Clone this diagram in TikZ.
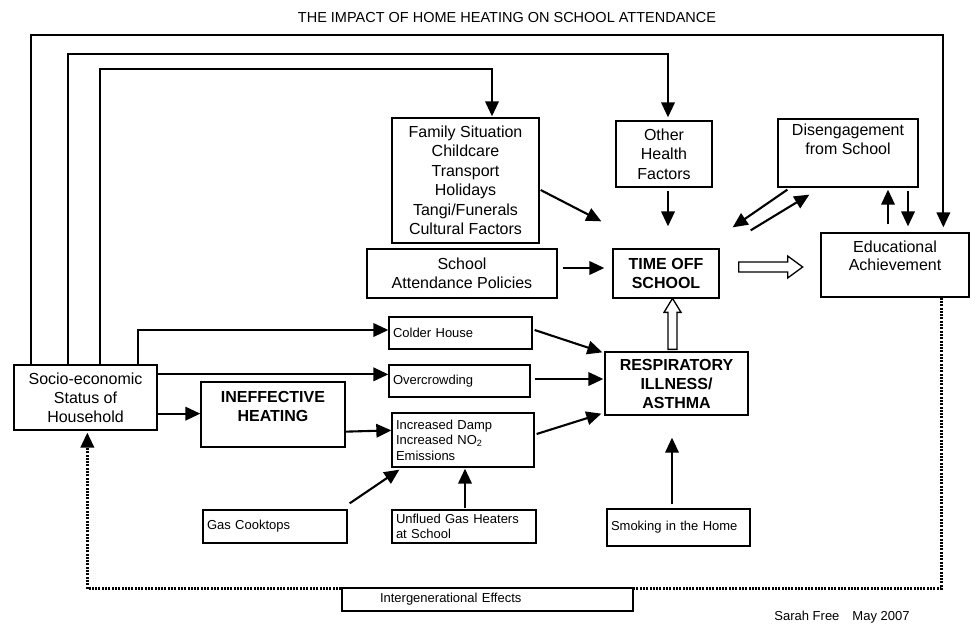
\documentclass[tikz,border=0pt]{standalone}
\usepackage{fontspec}
\setmainfont{Liberation Sans}
\usetikzlibrary{arrows.meta,calc}
\tikzset{
  bx/.style={draw, line width=1.3pt, inner sep=4pt, align=center, font=\fontsize{16}{19}\selectfont},
  bxb/.style={bx, font=\fontsize{16}{19}\selectfont\bfseries},
  sbx/.style={draw, line width=1.3pt, inner xsep=4pt, inner ysep=2pt, align=left, font=\fontsize{13}{15.5}\selectfont},
  arr/.style={line width=2.1pt, -{Triangle[length=15pt,width=13.5pt]}},
  dotline/.style={line width=2.4pt, dash pattern=on 2pt off 1.3pt, -{Triangle[length=15pt,width=13.5pt]}},
  hollow/.style={line width=1.3pt, fill=white}
}
\begin{document}
\begin{tikzpicture}[x=1pt,y=-1pt]
\useasboundingbox[fill=white] (0,0) rectangle (976,624);

\node[font=\fontsize{14.5}{17}\selectfont] (title) at (507,18) {THE IMPACT OF HOME HEATING ON SCHOOL ATTENDANCE};

% main boxes
\node[bx, minimum width=143, minimum height=65] (socio) at (85.5,397.5) {Socio-economic\\Status of\\Household};
\node[bxb, minimum width=144, minimum height=65] (ineff) at (273,414.5) {INEFFECTIVE\\HEATING\\[-3pt]\mbox{}};
\node[bx, minimum width=147, minimum height=125, font=\fontsize{16}{19.5}\selectfont] (family) at (465.5,180.5) {Family Situation\\Childcare\\Transport\\Holidays\\Tangi/Funerals\\Cultural Factors};
\node[bx, minimum width=96, minimum height=66, font=\fontsize{16}{19.5}\selectfont] (other) at (664,154) {Other\\Health\\Factors};
\node[bx, minimum width=140, minimum height=68] (diseng) at (848,153) {Disengagement\\from School\\[9pt]\mbox{}};
\node[bx, minimum width=190, minimum height=49] (school) at (462,273.5) {School\\Attendance Policies};
\node[bxb, minimum width=106, minimum height=49] (timeoff) at (666,273.5) {TIME OFF\\SCHOOL};
\node[bx, minimum width=148, minimum height=64, font=\fontsize{16}{18.5}\selectfont] (edu) at (895,265) {Educational\\Achievement\\\mbox{}};
\node[bxb, minimum width=143, minimum height=63, inner ysep=2pt] (resp) at (676.5,383.5) {RESPIRATORY\\ILLNESS/\\ASTHMA};

% small boxes
\node[sbx, text width=135, minimum height=32] (colder) at (460.5,333) {Colder House};
\node[sbx, text width=133, minimum height=32] (overc) at (459.5,381) {Overcrowding};
\node[sbx, text width=134, minimum height=54] (damp) at (463,440) {Increased Damp\\Increased NO\textsubscript{2}\\Emissions};
\node[sbx, text width=136, minimum height=33, inner ysep=1pt] (gas) at (275,526.5) {Gas Cooktops};
\node[sbx, text width=136, minimum height=33, inner ysep=1pt] (unflued) at (464,526.5) {Unflued Gas Heaters\\at School};
\node[sbx, text width=135, minimum height=37] (smoking) at (678.5,527.5) {Smoking in the Home};

% loops from socio-economic status
\draw[arr] ($(socio.north west)+(18,0)$) -- ++(0,-329) -| ($(edu.north west)+(123,-5)$);
\draw[arr] ($(socio.north west)+(55,0)$) -- ++(0,-310) -| ($(other.north)+(4,-3)$);
\draw[arr] ($(socio.north west)+(87,0)$) -- ++(0,-295) -| ($(family.north)+(26.5,-1)$);
\draw[arr] ($(socio.north west)+(125,0)$) |- ($(colder.west)+(0,-3)$);
\draw[arr] ($(socio.north east)+(0,10)$) -- ($(overc.north west)+(0,10)$);
\draw[arr] ($(socio.south east)+(0,-17)$) -- ($(ineff.south west)+(0,-34)$);
\draw[arr] ($(ineff.south east)+(0,-16)$) -- ($(damp.north west)+(0,18)$);

% into respiratory illness
\draw[arr] ($(colder.east)+(2,-3)$) -- ($(resp.north west)+(-2,1)$);
\draw[arr] ($(overc.east)+(4,-2)$) -- ($(resp.west)+(-1,-4.5)$);
\draw[arr] ($(damp.east)+(2,-6)$) -- ($(resp.south west)+(-3,-2)$);
\draw[arr] ($(gas.north east)+(2,-6)$) -- ($(damp.south west)+(8,2)$);
\draw[arr] ($(unflued.north)+(1,-1)$) -- ($(damp.south)+(2,1)$);
\draw[arr] ($(smoking.north)+(-6.5,-4)$) -- ($(resp.south)+(-4.5,22)$);

% into time off school
\draw[arr] ($(family.east)+(1,9.5)$) -- ($(timeoff.north west)+(-11,-27)$);
\draw[arr] ($(other.south)+(4,3)$) -- ($(timeoff.north)+(2,-22)$);
\draw[arr] ($(school.east)+(5,-5.5)$) -- ($(timeoff.west)+(-8,-5.5)$);

% disengagement / time off / achievement
\draw[arr] ($(diseng.south west)+(10,2)$) -- ($(timeoff.north east)+(13,-21)$);
\draw[arr] ($(timeoff.north east)+(31,-18)$) -- ($(diseng.south west)+(32,7)$);
\draw[arr] ($(edu.north)+(-7,-8)$) -- ($(diseng.south)+(40,2)$);
\draw[arr] ($(diseng.south)+(60,3)$) -- ($(edu.north)+(13,-6)$);

% hollow arrows
\draw[hollow] ($(resp.north)+(-8.5,-2)$) -- ++(0,-37) -- ++(-4,0) -- ++(8.5,-14) -- ++(8.5,14) -- ++(-4,0) -- ++(0,37) -- cycle;
\draw[hollow] ($(timeoff.east)+(19,-11.5)$) -- ++(49,0) -- ++(0,-6) -- ++(15,11) -- ++(-15,11) -- ++(0,-6) -- ++(-49,0) -- cycle;

% intergenerational effects
\draw[dotline] ($(edu.south west)+(121,0)$) -- ++(0,291) -| ($(socio.south west)+(74,2)$);
\node[draw, line width=1.3pt, fill=white, minimum width=291, minimum height=23, inner xsep=38pt, text width=215, align=left, font=\fontsize{13}{15}\selectfont] (interg) at (487.5,599.5) {Intergenerational Effects};

\node[font=\fontsize{13}{15}\selectfont] (sig) at (842,617) {Sarah Free\quad May 2007};
\end{tikzpicture}
\end{document}
